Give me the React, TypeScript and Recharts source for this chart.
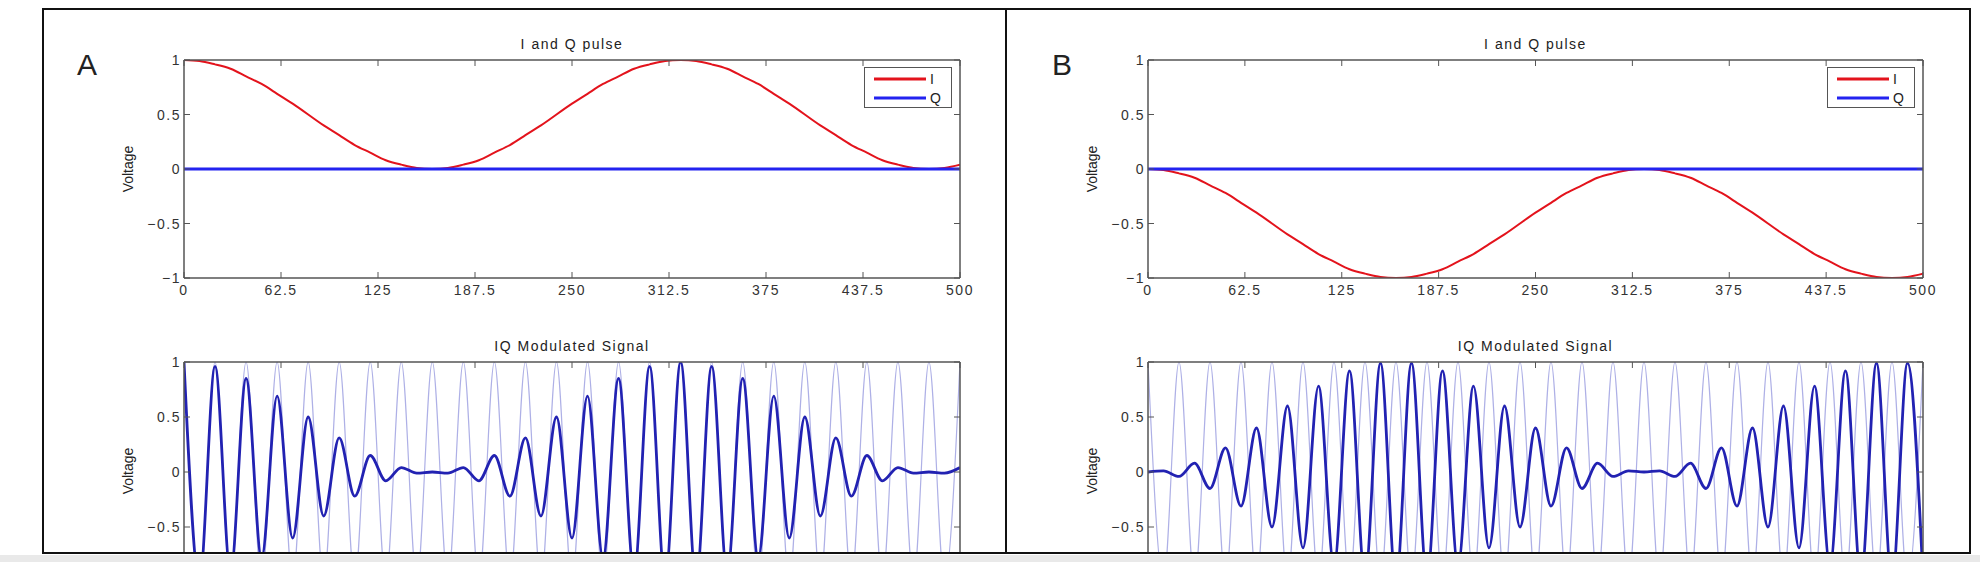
import React from 'react';
import { LineChart, Line, XAxis, YAxis, Legend } from 'recharts';

// sample positions (same grid for pulse and modulated signal, one per carrier half period)
const T = [
  0, 10, 20, 30, 40, 50, 60, 70, 80, 90,
  100, 110, 120, 130, 140, 150, 160, 170, 180, 190,
  200, 210, 220, 230, 240, 250, 260, 270, 280, 290,
  300, 310, 320, 330, 340, 350, 360, 370, 380, 390,
  400, 410, 420, 430, 440, 450, 460, 470, 480, 490,
  500,
];

// I pulse, panel A
const iPulseA = [
  1, 0.99, 0.96, 0.92, 0.85, 0.78, 0.69, 0.6, 0.5, 0.4,
  0.31, 0.22, 0.15, 0.08, 0.04, 0.01, 0, 0.01, 0.04, 0.08,
  0.15, 0.22, 0.31, 0.4, 0.5, 0.6, 0.69, 0.78, 0.85, 0.92,
  0.96, 0.99, 1, 0.99, 0.96, 0.92, 0.85, 0.78, 0.69, 0.6,
  0.5, 0.4, 0.31, 0.22, 0.15, 0.08, 0.04, 0.01, 0, 0.01,
  0.04,
];

// I pulse, panel B
const iPulseB = [
  0, -0.01, -0.04, -0.08, -0.15, -0.22, -0.31, -0.4, -0.5, -0.6,
  -0.69, -0.78, -0.85, -0.92, -0.96, -0.99, -1, -0.99, -0.96, -0.92,
  -0.85, -0.78, -0.69, -0.6, -0.5, -0.4, -0.31, -0.22, -0.15, -0.08,
  -0.04, -0.01, 0, -0.01, -0.04, -0.08, -0.15, -0.22, -0.31, -0.4,
  -0.5, -0.6, -0.69, -0.78, -0.85, -0.92, -0.96, -0.99, -1, -0.99,
  -0.96,
];

// Q pulse is flat at zero in both panels
const qT = [0, 500];
const qPulse = [0, 0];

// light carrier: peaks and troughs
const carrier = [
  1, -1, 1, -1, 1, -1, 1, -1, 1, -1,
  1, -1, 1, -1, 1, -1, 1, -1, 1, -1,
  1, -1, 1, -1, 1, -1, 1, -1, 1, -1,
  1, -1, 1, -1, 1, -1, 1, -1, 1, -1,
  1, -1, 1, -1, 1, -1, 1, -1, 1, -1,
  1,
];

// IQ modulated signal extremes
const iqSignalA = [
  1, -0.99, 0.96, -0.92, 0.85, -0.78, 0.69, -0.6, 0.5, -0.4,
  0.31, -0.22, 0.15, -0.08, 0.04, -0.01, 0, -0.01, 0.04, -0.08,
  0.15, -0.22, 0.31, -0.4, 0.5, -0.6, 0.69, -0.78, 0.85, -0.92,
  0.96, -0.99, 1, -0.99, 0.96, -0.92, 0.85, -0.78, 0.69, -0.6,
  0.5, -0.4, 0.31, -0.22, 0.15, -0.08, 0.04, -0.01, 0, -0.01,
  0.04,
];

const iqSignalB = [
  0, 0.01, -0.04, 0.08, -0.15, 0.22, -0.31, 0.4, -0.5, 0.6,
  -0.69, 0.78, -0.85, 0.92, -0.96, 0.99, -1, 0.99, -0.96, 0.92,
  -0.85, 0.78, -0.69, 0.6, -0.5, 0.4, -0.31, 0.22, -0.15, 0.08,
  -0.04, 0.01, 0, 0.01, -0.04, 0.08, -0.15, 0.22, -0.31, 0.4,
  -0.5, 0.6, -0.69, 0.78, -0.85, 0.92, -0.96, 0.99, -1, 0.99,
  -0.96,
];

const xTicks = [0, 62.5, 125, 187.5, 250, 312.5, 375, 437.5, 500];
const yTicks = [-1, -0.5, 0, 0.5, 1];
// lower plots are cut off by the frame below -0.5
const yTicksIQ = [-0.5, 0, 0.5, 1];

const FONT = '"Liberation Sans", Arial, Helvetica, sans-serif';
const AXIS = '#555';
const RED = '#e3131c';
const BLUE = '#2323f0';
const DARK_BLUE = '#2222b2';
const FAINT = '#aeb0e6';

// chart offsets around the plot box
const OFF = { left: 70, top: 30, right: 30, bottom: 40 };

const fmt = (v: number) => (v < 0 ? '\u2212' + String(-v) : String(v));

const txt = { fontSize: 14, letterSpacing: 1.5, fill: '#333', fontFamily: FONT };

function BottomTick(props: any) {
  const { x, y, payload } = props;
  return (
    <g>
      <line x1={x} x2={x} y1={y} y2={y - 6} stroke={AXIS} />
      <text x={x} y={y + 17} textAnchor="middle" {...txt}>{fmt(payload.value)}</text>
    </g>
  );
}

function TopTick(props: any) {
  const { x, y } = props;
  return <line x1={x} x2={x} y1={y} y2={y + 6} stroke={AXIS} />;
}

function LeftTick(props: any) {
  const { x, y, payload } = props;
  return (
    <g>
      <line x1={x} x2={x + 6} y1={y} y2={y} stroke={AXIS} />
      <text x={x - 3} y={y + 5} textAnchor="end" {...txt}>{fmt(payload.value)}</text>
    </g>
  );
}

function RightTick(props: any) {
  const { x, y } = props;
  return <line x1={x} x2={x - 6} y1={y} y2={y} stroke={AXIS} />;
}

function LegendBox() {
  const row = (color: string, label: string) => (
    <div style={{ display: 'flex', alignItems: 'center', height: 19 }}>
      <svg width={56} height={6} style={{ marginLeft: 9 }}>
        <line x1={0} x2={52} y1={3} y2={3} stroke={color} strokeWidth={3} />
      </svg>
      <span style={{ fontFamily: FONT, fontSize: 14, color: '#222', lineHeight: '14px' }}>{label}</span>
    </div>
  );
  return (
    <div style={{ width: 88, height: 41, boxSizing: 'border-box', border: `1.5px solid ${AXIS}`, background: '#fff', paddingTop: 1 }}>
      {row(RED, 'I')}
      {row(BLUE, 'Q')}
    </div>
  );
}

interface AxesProps {
  x: number;
  y: number;
  w: number;
  h: number;
  rows: any[];
  title: string;
  legend?: boolean;
  cut?: boolean;
  children: React.ReactNode;
}

function Axes({ x, y, w, h, rows, title, legend, cut, children }: AxesProps) {
  const yt = cut ? yTicksIQ : yTicks;
  return (
    <>
      <div style={{ position: 'absolute', left: x - OFF.left, top: y - OFF.top }}>
        <LineChart
          width={w + OFF.left + OFF.right}
          height={h + OFF.top + OFF.bottom}
          data={rows}
          margin={{ top: 20, right: 20, bottom: 10, left: 0 }}
        >
          <XAxis xAxisId="b" dataKey="t" type="number" domain={[0, 500]} allowDataOverflow ticks={xTicks} interval={0}
            height={30} tickSize={0} tickMargin={0} tickLine={false} axisLine={{ stroke: AXIS, strokeWidth: 1.5 }}
            tick={cut ? false : <BottomTick />} />
          <XAxis xAxisId="t" orientation="top" dataKey="t" type="number" domain={[0, 500]} allowDataOverflow ticks={xTicks} interval={0}
            height={10} tickSize={0} tickMargin={0} tickLine={false} axisLine={{ stroke: AXIS, strokeWidth: 1.5 }} tick={<TopTick />} />
          <YAxis yAxisId="l" type="number" domain={[-1, 1]} allowDataOverflow ticks={yt} interval={0}
            width={70} tickSize={0} tickMargin={0} tickLine={false} axisLine={{ stroke: AXIS, strokeWidth: 1.5 }} tick={<LeftTick />} />
          <YAxis yAxisId="r" orientation="right" type="number" domain={[-1, 1]} allowDataOverflow ticks={yt} interval={0}
            width={10} tickSize={0} tickMargin={0} tickLine={false} axisLine={{ stroke: AXIS, strokeWidth: 1.5 }} tick={<RightTick />} />
          {legend && (
            <Legend
              layout="horizontal"
              verticalAlign="middle"
              align="center"
              wrapperStyle={{ left: OFF.left + w - 96, top: OFF.top + 7, width: 88, height: 41 }}
              content={() => <LegendBox />}
            />
          )}
          {children}
        </LineChart>
      </div>
      <div style={{ position: 'absolute', left: x, top: y - 24, width: w, textAlign: 'center', fontFamily: FONT, fontSize: 14, letterSpacing: 1.5, lineHeight: '16px', color: '#222' }}>
        {title}
      </div>
      <div style={{ position: 'absolute', left: x - 56, top: y + 109, transform: 'translate(-50%, -50%) rotate(-90deg)', whiteSpace: 'nowrap', fontFamily: FONT, fontSize: 14, color: '#222' }}>
        Voltage
      </div>
    </>
  );
}

const pulseRowsA = T.map((t, i) => ({ t, i: iPulseA[i] }));
const pulseRowsB = T.map((t, i) => ({ t, i: iPulseB[i] }));
const qRows = qT.map((t, i) => ({ t, q: qPulse[i] }));
const iqRowsA = T.map((t, i) => ({ t, c: carrier[i], s: iqSignalA[i] }));
const iqRowsB = T.map((t, i) => ({ t, c: carrier[i], s: iqSignalB[i] }));

export default function App() {
  const pulseLines = [
    <Line key="i" xAxisId="b" yAxisId="l" type="natural" dataKey="i" stroke={RED} strokeWidth={2} dot={false} isAnimationActive={false} />,
    <Line key="q" xAxisId="b" yAxisId="l" type="linear" data={qRows} dataKey="q" stroke={BLUE} strokeWidth={3} dot={false} isAnimationActive={false} />,
  ];
  const iqLines = [
    <Line key="c" xAxisId="b" yAxisId="l" type="monotone" dataKey="c" stroke={FAINT} strokeWidth={1.2} dot={false} isAnimationActive={false} />,
    <Line key="s" xAxisId="b" yAxisId="l" type="monotone" dataKey="s" stroke={DARK_BLUE} strokeWidth={2.8} dot={false} isAnimationActive={false} />,
  ];
  return (
    <div style={{ position: 'absolute', left: 0, top: 0, width: 1980, height: 562, background: '#fff', overflow: 'hidden' }}>
      <div style={{ position: 'absolute', left: 0, top: 0, width: 1980, height: 553, overflow: 'hidden' }}>
        <Axes x={184} y={60} w={776} h={218} rows={pulseRowsA} title="I and Q pulse" legend>
          {pulseLines}
        </Axes>
        <Axes x={1148} y={60} w={775} h={218} rows={pulseRowsB} title="I and Q pulse" legend>
          {pulseLines}
        </Axes>
        <Axes x={184} y={362} w={776} h={220} rows={iqRowsA} title="IQ Modulated Signal" cut>
          {iqLines}
        </Axes>
        <Axes x={1148} y={362} w={775} h={220} rows={iqRowsB} title="IQ Modulated Signal" cut>
          {iqLines}
        </Axes>
        <div style={{ position: 'absolute', left: 77, top: 50, fontFamily: FONT, fontSize: 30, lineHeight: '30px', color: '#222' }}>A</div>
        <div style={{ position: 'absolute', left: 1052, top: 50, fontFamily: FONT, fontSize: 30, lineHeight: '30px', color: '#222' }}>B</div>
      </div>
      <div style={{ position: 'absolute', left: 42, top: 8, width: 1929, height: 546, boxSizing: 'border-box', border: '2px solid #111' }} />
      <div style={{ position: 'absolute', left: 1005, top: 8, width: 2, height: 546, background: '#111' }} />
      <div style={{ position: 'absolute', left: 0, top: 555, width: 1980, height: 7, background: '#e9e9e9' }} />
    </div>
  );
}
